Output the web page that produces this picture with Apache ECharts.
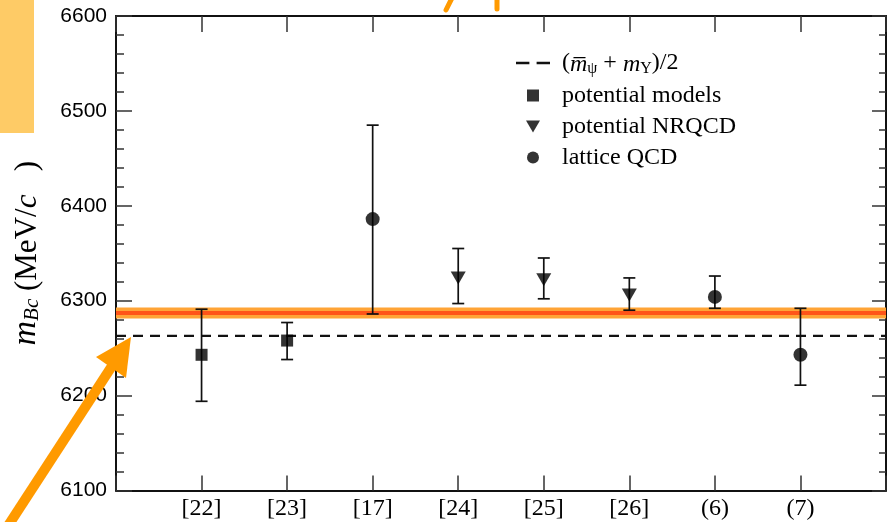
<!DOCTYPE html>
<html>
<head>
<meta charset="utf-8">
<script src="https://cdn.jsdelivr.net/npm/echarts@6/dist/echarts.min.js"></script>
<style>html,body{margin:0;padding:0;background:#fff;}#c{width:894px;height:522px;}</style>
</head>
<body>
<div id="c"></div>
<script>
// ---- data ----
const categories = ['[22]', '[23]', '[17]', '[24]', '[25]', '[26]', '(6)', '(7)'];
const methods = ['potential models', 'potential models', 'lattice QCD', 'potential NRQCD',
                 'potential NRQCD', 'potential NRQCD', 'lattice QCD', 'lattice QCD'];
const centralValues = [6243, 6258, 6386, 6324, 6322, 6306, 6304, 6243];
const upperValues   = [6291, 6277, 6485, 6355, 6345, 6324, 6326, 6292];
const lowerValues   = [6194, 6238, 6286, 6297, 6302, 6290, 6292, 6211];
const averageMass = 6263;      // dashed line (m_psi + m_Upsilon)/2
const highlightMass = 6287;    // orange band
const yTicks = [6100, 6200, 6300, 6400, 6500, 6600];

const AVG_NAME = 'average';
const serif = 'Liberation Serif';

function pointsOf(method) {
  const out = [];
  methods.forEach((m, i) => { if (m === method) out.push([i + 1, centralValues[i]]); });
  return out;
}
const errorData = categories.map((c, i) => [i + 1, lowerValues[i], upperValues[i]]);

const chart = echarts.init(document.getElementById('c'), null, {renderer: 'canvas'});

const axisLineStyle = {color: '#111', width: 2};
const tickStyle = {color: '#333', width: 1.5};

chart.setOption({
  animation: false,
  backgroundColor: '#fff',
  grid: {left: 116, right: 8, top: 16, bottom: 31.5, containLabel: false},
  xAxis: [{
    type: 'value', min: 0, max: categories.length + 1, interval: 1, position: 'bottom',
    axisLine: {show: true, onZero: false, lineStyle: axisLineStyle},
    axisTick: {show: true, inside: true, length: 15, lineStyle: tickStyle},
    splitLine: {show: false},
    axisLabel: {
      formatter: v => categories[v - 1] || '',
      fontFamily: serif, fontSize: 24, color: '#000', margin: 6
    }
  }, {
    type: 'value', min: 0, max: categories.length + 1, interval: 1, position: 'top',
    axisLine: {show: true, onZero: false, lineStyle: axisLineStyle},
    axisTick: {show: true, inside: true, length: 16, lineStyle: tickStyle},
    splitLine: {show: false}, axisLabel: {show: false}
  }],
  yAxis: [{
    type: 'value', min: yTicks[0], max: yTicks[yTicks.length - 1], interval: 100, position: 'left',
    axisLine: {show: true, onZero: false, lineStyle: axisLineStyle},
    axisTick: {show: true, inside: true, length: 16, lineStyle: tickStyle},
    minorTick: {show: true, splitNumber: 5, length: 8, lineStyle: tickStyle},
    splitLine: {show: false}, minorSplitLine: {show: false},
    axisLabel: {formatter: v => String(v), fontFamily: 'Liberation Sans', fontSize: 21, color: '#000', margin: 9},
    name: '{m|m}{sub|Bc}{sp| }{u|(MeV/}{ui|c}{u|   )}',
    nameLocation: 'middle', nameRotate: 90, nameGap: 73,
    nameTextStyle: {
      color: '#000',
      rich: {
        m: {fontFamily: serif, fontStyle: 'italic', fontSize: 34, lineHeight: 38, verticalAlign: 'bottom'},
        sub: {fontFamily: serif, fontStyle: 'italic', fontSize: 21, lineHeight: 21, verticalAlign: 'bottom'},
        sp: {fontFamily: serif, fontSize: 31, lineHeight: 38},
        u: {fontFamily: serif, fontSize: 31, lineHeight: 38, verticalAlign: 'bottom'},
        ui: {fontFamily: serif, fontStyle: 'italic', fontSize: 31, lineHeight: 38, verticalAlign: 'bottom'}
      }
    }
  }, {
    type: 'value', min: yTicks[0], max: yTicks[yTicks.length - 1], interval: 100, position: 'right',
    axisLine: {show: true, onZero: false, lineStyle: axisLineStyle},
    axisTick: {show: true, inside: true, length: 14, lineStyle: tickStyle},
    minorTick: {show: true, splitNumber: 5, length: 7, lineStyle: tickStyle},
    splitLine: {show: false}, axisLabel: {show: false}
  }],
  legend: {
    orient: 'vertical', left: 511, top: 46,
    itemWidth: 34, itemHeight: 12, itemGap: 7,
    symbolKeepAspect: true,
    data: [
      {name: AVG_NAME, icon: 'path://M0,0H13V2.4H0Z M20,0H33V2.4H20Z'},
      {name: 'potential models', icon: 'path://M0,0H10V10H0Z'},
      {name: 'potential NRQCD', icon: 'path://M0,0H14L7,12Z'},
      {name: 'lattice QCD', icon: 'path://M6,0A6,6,0,1,1,6,12A6,6,0,1,1,6,0Z'}
    ],
    formatter: name => name === AVG_NAME
      ? '({mi|m\u0305}{s|\u03C8} + {mi|m}{s|\u03A5})/2'
      : name,
    textStyle: {
      fontFamily: serif, fontSize: 24, color: '#000', padding: [0, 0, 0, 7],
      rich: {
        mi: {fontFamily: serif, fontStyle: 'italic', fontSize: 24, lineHeight: 27, verticalAlign: 'bottom'},
        s: {fontFamily: serif, fontSize: 16, lineHeight: 16, verticalAlign: 'bottom'}
      }
    }
  },
  series: [
    {
      name: AVG_NAME, type: 'line', symbol: 'none', z: 2,
      data: [[0, averageMass], [categories.length + 1, averageMass]],
      lineStyle: {color: '#111', width: 2.2, type: [10, 7]},
      itemStyle: {color: '#111'}
    },
    {
      name: 'band-outer', type: 'line', symbol: 'none', z: 5, silent: true,
      data: [[0, highlightMass], [categories.length + 1, highlightMass]],
      lineStyle: {color: '#FFA436', width: 11}
    },
    {
      name: 'band-inner', type: 'line', symbol: 'none', z: 6, silent: true,
      data: [[0, highlightMass], [categories.length + 1, highlightMass]],
      lineStyle: {color: '#FF5418', width: 4}
    },
    {
      name: 'errors', type: 'custom', z: 7, silent: true,
      data: errorData,
      encode: {x: 0, y: [1, 2]},
      renderItem: (params, api) => {
        const x = api.value(0);
        const lo = api.coord([x, api.value(1)]);
        const hi = api.coord([x, api.value(2)]);
        const cap = 6;
        const st = {stroke: '#111', lineWidth: 1.7};
        return {
          type: 'group',
          children: [
            {type: 'line', shape: {x1: lo[0], y1: lo[1], x2: hi[0], y2: hi[1]}, style: st},
            {type: 'line', shape: {x1: lo[0] - cap, y1: lo[1], x2: lo[0] + cap, y2: lo[1]}, style: st},
            {type: 'line', shape: {x1: hi[0] - cap, y1: hi[1], x2: hi[0] + cap, y2: hi[1]}, style: st}
          ]
        };
      }
    },
    {
      name: 'potential models', type: 'scatter', z: 8, symbol: 'rect', symbolSize: 12,
      data: pointsOf('potential models'), itemStyle: {color: '#000'}
    },
    {
      name: 'potential NRQCD', type: 'scatter', z: 8, symbol: 'triangle', symbolRotate: 180,
      symbolSize: [15, 13],
      data: pointsOf('potential NRQCD'), itemStyle: {color: '#000'}
    },
    {
      name: 'lattice QCD', type: 'scatter', z: 8, symbol: 'circle', symbolSize: 14,
      data: pointsOf('lattice QCD'), itemStyle: {color: '#000'}
    }
  ],
  graphic: [
    {type: 'rect', left: 0, top: 0, z: 10, shape: {width: 34, height: 133}, style: {fill: '#FECB66'}},
    {type: 'line', z: 10, shape: {x1: 4, y1: 532, x2: 112, y2: 366}, style: {stroke: '#FF9A00', lineWidth: 10}},
    {type: 'polygon', z: 10, shape: {points: [[131, 337], [96, 357], [126, 378]]}, style: {fill: '#FF9A00'}},
    {type: 'line', z: 10, shape: {x1: 446, y1: 10, x2: 452, y2: -2}, style: {stroke: '#FF9A00', lineWidth: 5, lineCap: 'round'}},
    {type: 'line', z: 10, shape: {x1: 497, y1: -2, x2: 497, y2: 9}, style: {stroke: '#FF9A00', lineWidth: 5, lineCap: 'round'}}
  ]
});
</script>
</body>
</html>
